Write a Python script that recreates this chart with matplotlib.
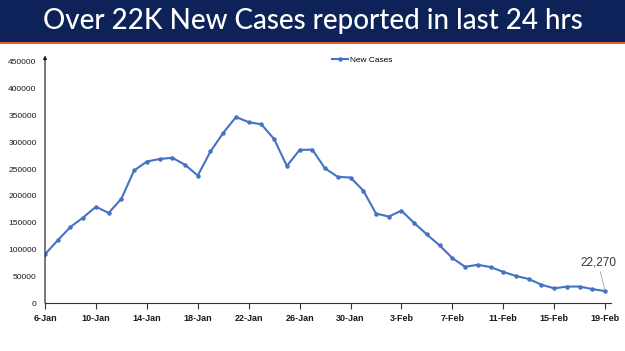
import matplotlib
matplotlib.use("Agg")
import matplotlib.pyplot as plt
from matplotlib.patches import Rectangle

dates = ["6-Jan", "7-Jan", "8-Jan", "9-Jan", "10-Jan", "11-Jan", "12-Jan", "13-Jan",
         "14-Jan", "15-Jan", "16-Jan", "17-Jan", "18-Jan", "19-Jan", "20-Jan", "21-Jan",
         "22-Jan", "23-Jan", "24-Jan", "25-Jan", "26-Jan", "27-Jan", "28-Jan", "29-Jan",
         "30-Jan", "31-Jan", "1-Feb", "2-Feb", "3-Feb", "4-Feb", "5-Feb", "6-Feb",
         "7-Feb", "8-Feb", "9-Feb", "10-Feb", "11-Feb", "12-Feb", "13-Feb", "14-Feb",
         "15-Feb", "16-Feb", "17-Feb", "18-Feb", "19-Feb"]
new_cases = [90928, 117100, 141986, 159632, 179723, 168063, 194720, 247417,
             264202, 268833, 271202, 258089, 238018, 282970, 317532, 347254,
             337704, 333533, 306064, 255874, 285914, 286384, 251209, 235532,
             234281, 209918, 167059, 161386, 172433, 149394, 127952, 107474,
             83876, 67597, 71365, 67084, 58077, 50407, 44877, 34113,
             27409, 30615, 30757, 25920, 22270]
yticks = [0, 50000, 100000, 150000, 200000, 250000, 300000, 350000, 400000, 450000]
title = "Over 22K New Cases reported in last 24 hrs"
series_name = "New Cases"
last_label = "22,270"

W, H = 625, 351
fig = plt.figure(figsize=(W / 100, H / 100), dpi=100)
fig.patch.set_facecolor("white")

# title banner
fig.patches.append(Rectangle((0, (H - 42) / H), 1, 42 / H, transform=fig.transFigure,
                             facecolor="#0c2258", edgecolor="none", zorder=0))
fig.patches.append(Rectangle((0, (H - 44) / H), 1, 2 / H, transform=fig.transFigure,
                             facecolor="#e2652f", edgecolor="none", zorder=0))
fig.text(0.5, (H - 21) / H, title, ha="center", va="center", color="white",
         fontsize=20, family="Lato", fontweight="medium")

x = list(range(len(dates)))
px_per_day = 12.73
left, bottom, top = 45, 303, 62
right = left + 44.5 * px_per_day
ax = fig.add_axes([left / W, (H - bottom) / H, (right - left) / W, (bottom - top) / H])
ax.plot(x, new_cases, color="#4472c4", lw=1.5, marker="o", ms=2.2, label=series_name)
ax.set_xlim(0, 44.5)
ax.set_ylim(0, 450000)
ax.set_yticks(yticks)
ax.set_yticklabels([str(v) for v in yticks], family="Liberation Sans", fontsize=6, color="#1a1a1a")
ax.set_xticks(x[::4])
ax.set_xticklabels(dates[::4], family="Liberation Sans", fontsize=6.5, fontweight="bold", color="#1a1a1a")
ax.tick_params(axis="y", length=0, pad=6)
ax.tick_params(axis="x", length=4, width=0.8, direction="out", pad=4, color="#333333")
for s in ["top", "right", "left"]:
    ax.spines[s].set_visible(False)
ax.spines["bottom"].set_color("#333333")
ax.spines["bottom"].set_linewidth(0.8)
ax.annotate("", xy=(0, 462000), xytext=(0, 0), annotation_clip=False,
            arrowprops=dict(arrowstyle="-|>", color="#111111", lw=0.8,
                            mutation_scale=5, shrinkA=0, shrinkB=0))

ax.annotate(last_label, xy=(x[-1], new_cases[-1]), xytext=(-5, 16), textcoords="offset points",
            ha="center", va="bottom", fontsize=8.5, color="#383838", family="Liberation Sans",
            annotation_clip=False,
            arrowprops=dict(arrowstyle="-", color="#a0a0a0", lw=0.6, shrinkA=0, shrinkB=1))

fig.legend(loc="center", bbox_to_anchor=(362 / W, (H - 60) / H), frameon=False,
           prop={"family": "Liberation Sans", "size": 6}, handlelength=2.0, handletextpad=0.2,
           borderpad=0)

fig.savefig("out.png", dpi=100)
